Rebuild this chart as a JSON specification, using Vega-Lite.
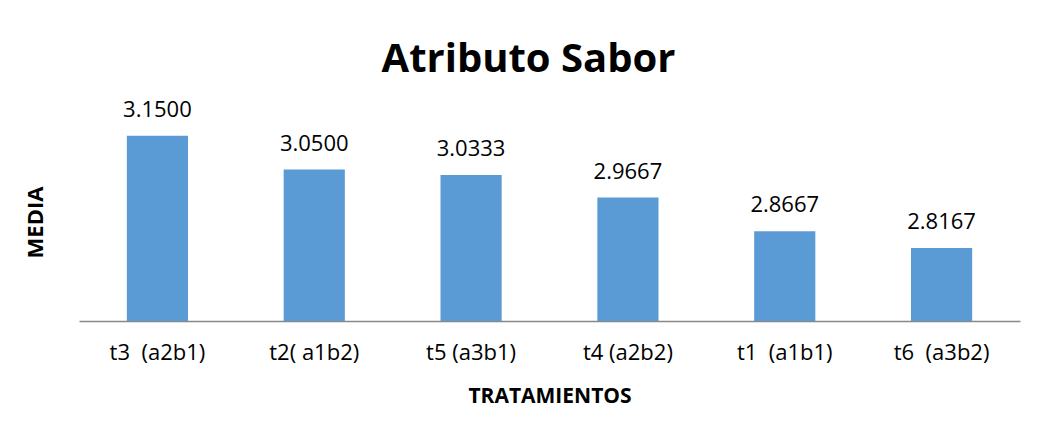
{
  "$schema": "https://vega.github.io/schema/vega-lite/v6.json",
  "width": 941,
  "height": 202,
  "autosize": {"type": "none"},
  "padding": {"left": 79, "top": 119, "right": 25, "bottom": 121},
  "background": "white",
  "config": {"view": {"stroke": null}, "font": "Open Sans"},
  "title": {
    "text": "Atributo Sabor",
    "font": "Open Sans",
    "fontSize": 40,
    "fontWeight": "bold",
    "color": "#000000",
    "anchor": "middle",
    "baseline": "alphabetic",
    "offset": 47,
    "dx": -21,
    "dy": 60
  },
  "data": {
    "values": [
      {"tratamiento": "t3\u00a0 (a2b1)", "media": 3.15, "etiqueta": "3.1500"},
      {"tratamiento": "t2( a1b2)", "media": 3.05, "etiqueta": "3.0500"},
      {"tratamiento": "t5 (a3b1)", "media": 3.0333, "etiqueta": "3.0333"},
      {"tratamiento": "t4 (a2b2)", "media": 2.9667, "etiqueta": "2.9667"},
      {"tratamiento": "t1\u00a0 (a1b1)", "media": 2.8667, "etiqueta": "2.8667"},
      {"tratamiento": "t6\u00a0 (a3b2)", "media": 2.8167, "etiqueta": "2.8167"}
    ]
  },
  "encoding": {
    "x": {
      "field": "tratamiento",
      "type": "nominal",
      "sort": null,
      "scale": {"paddingInner": 0.61, "paddingOuter": 0.305},
      "axis": {
        "title": "TRATAMIENTOS",
        "titleFont": "Open Sans",
        "titleFontSize": 21,
        "titleFontWeight": "bold",
        "titleColor": "#000000",
        "titleBaseline": "middle",
        "titleY": 75,
        "labelAngle": 0,
        "labelFont": "Open Sans",
        "labelFontSize": 22,
        "labelColor": "#000000",
        "labelPadding": 21,
        "ticks": false,
        "domainColor": "#888888",
        "domainWidth": 1.5
      }
    },
    "y": {
      "field": "media",
      "type": "quantitative",
      "scale": {"domain": [2.6, 3.2], "zero": false, "nice": false},
      "axis": {
        "title": "MEDIA",
        "titleFont": "Open Sans",
        "titleFontSize": 22,
        "titleFontWeight": "bold",
        "titleColor": "#000000",
        "titleX": -44,
        "titleY": 103,
        "titleAngle": -90,
        "titleBaseline": "middle",
        "titleAlign": "center",
        "labels": false,
        "ticks": false,
        "domain": false,
        "grid": false
      }
    }
  },
  "layer": [
    {"mark": {"type": "bar", "color": "#5B9BD5", "clip": true}},
    {
      "mark": {"type": "text", "baseline": "alphabetic", "dy": -19, "fontSize": 22, "font": "Open Sans", "color": "#000000"},
      "encoding": {"text": {"field": "etiqueta"}}
    }
  ]
}
